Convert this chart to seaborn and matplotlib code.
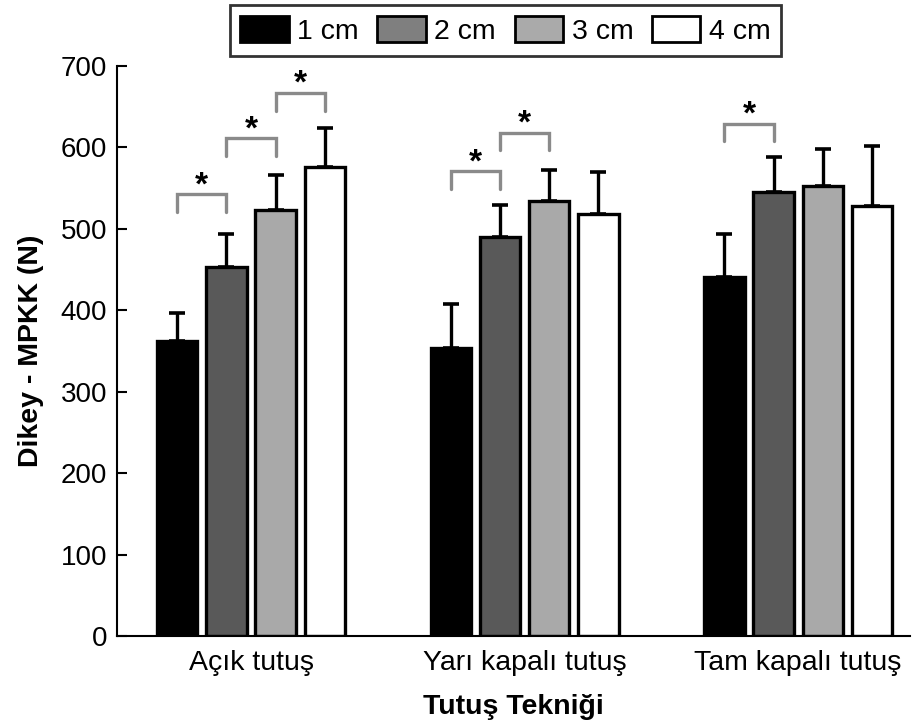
import matplotlib
matplotlib.use("Agg")
import matplotlib.pyplot as plt
from matplotlib.patches import Patch
import numpy as np
import pandas as pd
import seaborn as sns

# Grip techniques and finger-span sizes
techniques = ["Açık tutuş", "Yarı kapalı tutuş", "Tam kapalı tutuş"]
sizes = ["1 cm", "2 cm", "3 cm", "4 cm"]

# Mean force (N) per technique, one list per size
mean_1cm = [362, 353, 441]
mean_2cm = [453, 490, 545]
mean_3cm = [523, 534, 552]
mean_4cm = [576, 518, 528]

# Standard deviations (upper error bars)
sd_1cm = [35, 55, 53]
sd_2cm = [41, 39, 43]
sd_3cm = [43, 38, 46]
sd_4cm = [48, 52, 73]

# Significant pairs: (technique index, size a, size b, bracket height)
sig_pairs = [
    (0, 0, 1, 542),
    (0, 1, 2, 611),
    (0, 2, 3, 667),
    (1, 0, 1, 571),
    (1, 1, 2, 618),
    (2, 0, 1, 629),
]

bar_colors = ["#000000", "#595959", "#a9a9a9", "#ffffff"]
legend_colors = ["#000000", "#7f7f7f", "#aaaaaa", "#ffffff"]

means = [mean_1cm, mean_2cm, mean_3cm, mean_4cm]
sds = [sd_1cm, sd_2cm, sd_3cm, sd_4cm]
df = pd.DataFrame({
    "Teknik": [t for _ in sizes for t in techniques],
    "Boyut": [s for s in sizes for _ in techniques],
    "Kuvvet": [v for m in means for v in m],
})

sns.set_style("white")
plt.rcParams["font.family"] = ["Liberation Sans", "DejaVu Sans"]
plt.rcParams["text.color"] = "black"
plt.rcParams["axes.labelcolor"] = "black"
plt.rcParams["xtick.color"] = "black"
plt.rcParams["ytick.color"] = "black"

fig = plt.figure(figsize=(9.14, 7.22), dpi=100)
ax = fig.add_axes([0.128, 0.119, 0.868, 0.79])

sns.barplot(data=df, x="Teknik", y="Kuvvet", hue="Boyut", order=techniques,
            hue_order=sizes, palette=bar_colors, width=0.72, gap=0.18,
            edgecolor="black", linewidth=2.4, errorbar=None, legend=False, ax=ax)

# Bar centres, read from the drawn patches
bar_containers = list(ax.containers)
centers = {}
for si, cont in enumerate(bar_containers):
    for ti, bar in enumerate(cont.patches):
        cx = bar.get_x() + bar.get_width() / 2
        centers[(ti, si)] = cx
        top = bar.get_height()
        ax.errorbar(cx, top, yerr=[[0], [sds[si][ti]]], fmt="none",
                    ecolor="black", elinewidth=2.4, capsize=6, capthick=2.6,
                    zorder=1)

# Significance brackets
for ti, a, b, h in sig_pairs:
    xa, xb = centers[(ti, a)], centers[(ti, b)]
    ax.plot([xa, xa, xb, xb], [h - 22, h, h, h - 22], color="#8a8a8a",
            lw=2.4, solid_joinstyle="miter", zorder=3)
    ax.text((xa + xb) / 2, h + 10, "*", ha="center", va="center",
            fontsize=24, fontweight="bold", color="black")

ax.set_ylim(0, 700)
ax.set_xlim(-0.49, 2.41)
ax.set_yticks(range(0, 701, 100))
ax.tick_params(axis="y", direction="in", length=7, width=1.5, labelsize=20,
               left=True, pad=7)
ax.tick_params(axis="x", length=0, labelsize=20.5, pad=10)
for side in ["top", "right"]:
    ax.spines[side].set_visible(False)
for side in ["left", "bottom"]:
    ax.spines[side].set_linewidth(1.5)
    ax.spines[side].set_color("black")

ax.set_xlabel("Tutuş Tekniği", fontsize=20.5, fontweight="bold", labelpad=13)
ax.set_ylabel("Dikey - MPKK (N)", fontsize=20.5, fontweight="bold", labelpad=12)

handles = [Patch(facecolor=c, edgecolor="black", linewidth=2) for c in legend_colors]
leg = fig.legend(handles, sizes, loc="center", bbox_to_anchor=(0.553, 0.958),
                 ncol=4, fontsize=20.5, frameon=True, fancybox=False,
                 handlelength=1.7, handleheight=1.05, handletextpad=0.3,
                 columnspacing=0.65, borderpad=0.38, borderaxespad=0)
leg.get_frame().set_edgecolor("black")
leg.get_frame().set_linewidth(2)

fig.savefig("out.png", dpi=100)
